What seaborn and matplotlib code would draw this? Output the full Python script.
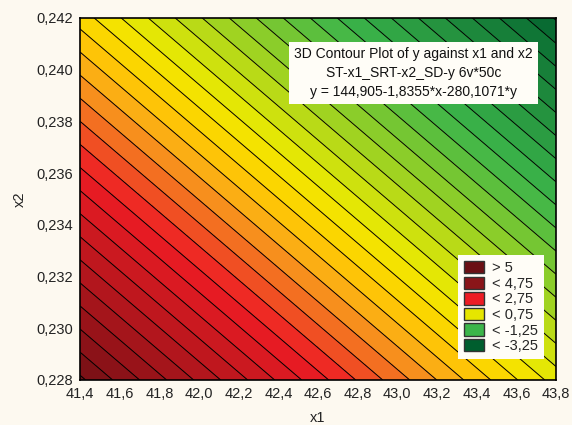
import numpy as np
import seaborn as sns
import matplotlib.pyplot as plt
from matplotlib.colors import LinearSegmentedColormap, Normalize
from matplotlib.patches import Patch
from matplotlib.ticker import FuncFormatter

# fitted surface y = b0 + b1*x1 + b2*x2 (from the chart's equation)
b0 = 144.905
b1 = -1.8355
b2 = -280.1071

x1_range = [41.4, 43.8]
x2_range = [0.228, 0.242]
x1_ticks = [41.4, 41.6, 41.8, 42.0, 42.2, 42.4, 42.6, 42.8, 43.0, 43.2, 43.4, 43.6, 43.8]
x2_ticks = [0.228, 0.230, 0.232, 0.234, 0.236, 0.238, 0.240, 0.242]

legend_labels = ['> 5', '< 4,75', '< 2,75', '< 0,75', '< -1,25', '< -3,25']
legend_colors = ['#6b0f14', '#8a1519', '#ed1c24', '#e6e600', '#3cb54a', '#005e2e']

# colour anchors of the gradient (value, colour)
anchor_vals = [-3.5, -1.25, 0.75, 1.25, 1.75, 2.2, 2.75, 5.25]
anchor_cols = ['#005e2e', '#3cb54a', '#f0eb00', '#ffd000', '#f9a11b', '#f26522', '#ed1c24', '#6b0f14']

bg = '#fdf9f0'
sns.set_style('white')
plt.rcParams['font.family'] = ['Liberation Sans', 'DejaVu Sans']

fig = plt.figure(figsize=(5.72, 4.25), dpi=100, facecolor=bg)
ax = fig.add_axes([0.140, 0.106, 0.832, 0.852])

g1 = np.linspace(x1_range[0], x1_range[1], 200)
g2 = np.linspace(x2_range[0], x2_range[1], 200)
X1, X2 = np.meshgrid(g1, g2)
Y = b0 + b1 * X1 + b2 * X2

levels = np.arange(-3.5, 5.26, 0.25)
lo, hi = anchor_vals[0], anchor_vals[-1]
cmap = LinearSegmentedColormap.from_list(
    'stat', [((v - lo) / (hi - lo), c) for v, c in zip(anchor_vals, anchor_cols)])
norm = Normalize(lo, hi)

ax.contourf(X1, X2, Y, levels=levels, cmap=cmap, norm=norm)
ax.contour(X1, X2, Y, levels=levels, colors='black', linewidths=0.7, linestyles='solid')

ax.set_xlim(x1_range)
ax.set_ylim(x2_range)
ax.set_xticks(x1_ticks)
ax.set_yticks(x2_ticks)
ax.xaxis.set_major_formatter(FuncFormatter(lambda v, p: f'{v:.1f}'.replace('.', ',')))
ax.yaxis.set_major_formatter(FuncFormatter(lambda v, p: f'{v:.3f}'.replace('.', ',')))
ax.tick_params(direction='in', length=3, width=0.8, labelsize=10.5, colors='black',
               labelcolor='#222222', pad=5)
for s in ax.spines.values():
    s.set_linewidth(1.2)
    s.set_color('black')

ax.set_xlabel('x1', fontsize=10.5, color='#222222', labelpad=7)
ax.set_ylabel('x2', fontsize=10.5, color='#222222', labelpad=7)

ax.text(0.701, 0.92,
        '3D Contour Plot of y against x1 and x2\nST-x1_SRT-x2_SD-y 6v*50c\ny = 144,905-1,8355*x-280,1071*y',
        transform=ax.transAxes, ha='center', va='top', fontsize=10, color='#111111',
        linespacing=1.45,
        bbox=dict(boxstyle='square,pad=0.35', facecolor='#fffdf7', edgecolor='none'))

handles = [Patch(facecolor=c, edgecolor='#333333', linewidth=1.0) for c in legend_colors]
leg = ax.legend(handles, legend_labels, loc='lower right', bbox_to_anchor=(0.974, 0.058),
                fontsize=10.5, frameon=True, fancybox=False, framealpha=1,
                handlelength=1.4, handleheight=0.9, handletextpad=0.5,
                labelspacing=0.1, borderpad=0.4, borderaxespad=0)
leg.get_frame().set_facecolor('#fffdf7')
leg.get_frame().set_edgecolor('none')

fig.savefig('out.png', dpi=100, facecolor=bg)
